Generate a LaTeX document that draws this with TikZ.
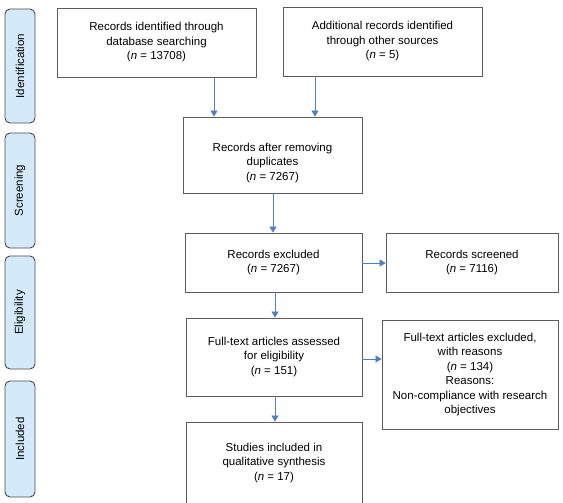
\documentclass[tikz,border=0pt]{standalone}
\usepackage{fontspec}
\setmainfont{Liberation Sans}
\usetikzlibrary{arrows.meta}

\definecolor{stagefill}{HTML}{D4EAFA}
\definecolor{boxline}{HTML}{5C5C5C}
\definecolor{arrowblue}{HTML}{4F81BD}

\tikzset{
  stage/.style={draw=boxline!80!black, fill=stagefill, rounded corners=5pt, line width=0.9pt,
    minimum height=30pt, rotate=90, font=\fontsize{11.5}{14.5}\selectfont},
  record/.style={draw=boxline, line width=0.8pt, align=center, inner sep=0pt,
    font=\fontsize{11.5}{14.5}\selectfont},
  flow/.style={draw=arrowblue, line width=0.7pt, -{Triangle[width=7pt,length=6pt]}}
}

\begin{document}
\begin{tikzpicture}[x=1pt,y=-1pt]
\clip (0,0) rectangle (563,503);

\node[stage, minimum width=114pt] (stIdent) at (20,66) {Identification};
\node[stage, minimum width=115pt] (stScreen) at (20,190.5) {Screening};
\node[stage, minimum width=113pt] (stElig) at (20,312.5) {Eligibility};
\node[stage, minimum width=116pt] (stIncl) at (20,439) {Included};


\node[record, minimum width=199pt, minimum height=69pt] (db) at (156.5,42.5)
  {Records identified through\\database searching\\(\textit{n} = 13708)};
\node[record, minimum width=199pt, minimum height=69pt] (other) at (382.5,41.5)
  {Additional records identified\\through other sources\\(\textit{n} = 5)};

\node[record, minimum width=179pt, minimum height=76pt] (dup) at (272.5,155) {};
\node[record, draw=none] (duptext) at (272.5,163)
  {Records after removing\\duplicates\\(\textit{n} = 7267)};

\node[record, minimum width=177pt, minimum height=59pt] (excl) at (273.5,262.5)
  {Records excluded\\(\textit{n} = 7267)};
\node[record, minimum width=172pt, minimum height=59pt] (scr) at (472,262.5)
  {Records screened\\(\textit{n} = 7116)};

\node[record, minimum width=176pt, minimum height=78pt] (full) at (274,357)
  {Full-text articles assessed\\for eligibility\\(\textit{n} = 151)};
\node[record, minimum width=176pt, minimum height=109pt] (fullex) at (470,374.5)
  {Full-text articles excluded,\\with reasons\\(\textit{n} = 134)\\Reasons:\\Non-compliance with research\\objectives};

\node[record, minimum width=176pt, minimum height=82pt] (incl) at (274,463)
  {Studies included in\\qualitative synthesis\\(\textit{n} = 17)};


\coordinate (dbx) at (214,0);
\coordinate (otherx) at (315,0);
\coordinate (dupx) at (273,0);
\coordinate (exclx) at (275,0);

\draw[flow] (db.south -| dbx) -- (dup.north -| dbx);
\draw[flow] (other.south -| otherx) -- (dup.north -| otherx);
\draw[flow] (dup.south -| dupx) -- (excl.north -| dupx);
\draw[flow] (excl.east |- 0,263) -- (scr.west |- 0,263);
\draw[flow] (excl.south -| exclx) -- (full.north -| exclx);
\draw[flow] (full.east |- 0,359) -- (fullex.west |- 0,359);
\draw[flow] (full.south -| exclx) -- (incl.north -| exclx);

\end{tikzpicture}
\end{document}
